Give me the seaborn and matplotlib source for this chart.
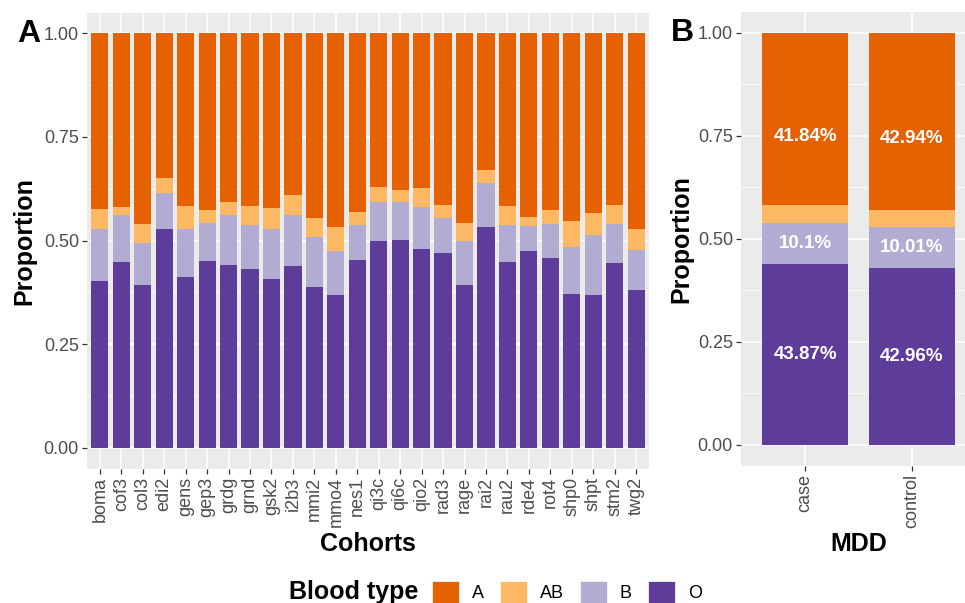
import numpy as np
import pandas as pd
import matplotlib
matplotlib.use("Agg")
import matplotlib.pyplot as plt
import seaborn as sns
from matplotlib.patches import Patch
from matplotlib.ticker import MultipleLocator, FormatStrFormatter

# ---------------- data ----------------
cohorts = ["boma", "cof3", "col3", "edi2", "gens", "gep3", "grdg", "grnd", "gsk2",
           "i2b3", "mmi2", "mmo4", "nes1", "qi3c", "qi6c", "qio2", "rad3", "rage",
           "rai2", "rau2", "rde4", "rot4", "shp0", "shpt", "stm2", "twg2"]
prop_O = [0.403, 0.448, 0.393, 0.528, 0.413, 0.452, 0.441, 0.431, 0.408, 0.439,
          0.389, 0.369, 0.453, 0.498, 0.502, 0.480, 0.470, 0.393, 0.534, 0.448,
          0.475, 0.459, 0.371, 0.369, 0.447, 0.381]
prop_B = [0.126, 0.114, 0.102, 0.086, 0.116, 0.091, 0.120, 0.107, 0.119, 0.124,
          0.119, 0.105, 0.084, 0.095, 0.092, 0.102, 0.084, 0.105, 0.105, 0.090,
          0.061, 0.082, 0.113, 0.145, 0.094, 0.096]
prop_AB = [0.047, 0.020, 0.044, 0.037, 0.054, 0.031, 0.033, 0.045, 0.052, 0.047,
           0.046, 0.059, 0.033, 0.036, 0.027, 0.045, 0.031, 0.045, 0.031, 0.045,
           0.021, 0.033, 0.063, 0.053, 0.045, 0.050]
prop_A = [0.424, 0.418, 0.461, 0.349, 0.417, 0.426, 0.406, 0.417, 0.421, 0.390,
          0.446, 0.467, 0.430, 0.371, 0.379, 0.373, 0.415, 0.457, 0.330, 0.417,
          0.443, 0.426, 0.453, 0.433, 0.414, 0.473]

mdd_groups = ["case", "control"]
mdd_O = [0.4387, 0.4296]
mdd_B = [0.1010, 0.1001]
mdd_AB = [0.0419, 0.0409]
mdd_A = [0.4184, 0.4294]

blood_types = ["A", "AB", "B", "O"]
colors = {"A": "#E66101", "AB": "#FDB863", "B": "#B2ABD2", "O": "#5E3C99"}

# ---------------- style ----------------
plt.rcParams["font.family"] = ["Liberation Sans", "DejaVu Sans"]
TICK_GRAY = "#4D4D4D"

fig = plt.figure(figsize=(9.65, 6.03), dpi=100)
W, H = 965, 603
axA = fig.add_axes([87 / W, 0.2227, 562 / W, 0.7564])
axB = fig.add_axes([741 / W, 0.2279, 235 / W, 0.7516])


def stacked(ax, cats, O, B, AB, A, xname):
    df = pd.DataFrame({xname: cats, "O": O, "B": B, "AB": AB, "A": A})
    df["top_O"] = df["O"]
    df["top_B"] = df["top_O"] + df["B"]
    df["top_AB"] = df["top_B"] + df["AB"]
    df["top_A"] = df["top_AB"] + df["A"]
    for bt in ["A", "AB", "B", "O"]:
        sns.barplot(data=df, x=xname, y="top_" + bt, order=cats, color=colors[bt],
                    saturation=1, width=0.8, errorbar=None, linewidth=0,
                    edgecolor="none", ax=ax)
    return df


def style(ax, n):
    ax.set_facecolor("#EBEBEB")
    for s in ax.spines.values():
        s.set_visible(False)
    ax.set_ylim(-0.05, 1.05)
    ax.set_xlim(-0.6, n - 1 + 0.6)
    ax.yaxis.set_major_locator(MultipleLocator(0.25))
    ax.yaxis.set_minor_locator(MultipleLocator(0.125))
    ax.yaxis.set_major_formatter(FormatStrFormatter("%.2f"))
    ax.grid(which="major", color="white", linewidth=1.1)
    ax.grid(which="minor", axis="y", color="white", linewidth=0.55)
    ax.set_axisbelow(True)
    ax.tick_params(which="major", length=3.8, width=0.9, color="#333333",
                   labelcolor=TICK_GRAY, labelsize=13, pad=2)
    ax.tick_params(which="minor", length=0)
    ax.tick_params(axis="x", labelrotation=90)


stacked(axA, cohorts, prop_O, prop_B, prop_AB, prop_A, "Cohorts")
dfB = stacked(axB, mdd_groups, mdd_O, mdd_B, mdd_AB, mdd_A, "MDD")
style(axA, len(cohorts))
style(axB, len(mdd_groups))

for ax, xl, lx, ly in [(axA, "Cohorts", -0.112, -0.166), (axB, "MDD", -0.255, -0.174)]:
    ax.set_xlabel(xl, fontsize=18, fontweight="bold")
    ax.set_ylabel("Proportion", fontsize=18, fontweight="bold")
    ax.yaxis.set_label_coords(lx, 0.5)
    ax.yaxis.label.set_va("center")
    ax.xaxis.set_label_coords(0.5, ly)
    ax.xaxis.label.set_va("center")

# percentage labels in panel B (A, B, O only)
for i, row in dfB.iterrows():
    pos_O = row["O"] / 2
    pos_B = row["O"] + row["B"] / 2
    pos_A = row["O"] + row["B"] + row["A"] / 2
    for val, pos in [(row["O"], pos_O), (row["B"], pos_B), (row["A"], pos_A)]:
        axB.text(i, pos, f"{round(val * 100, 2):g}%", ha="center", va="center",
                 color="white", fontsize=13.5, fontweight="bold")

# panel letters
fig.text(17 / W, 1 - 42 / H, "A", fontsize=23, fontweight="bold", va="baseline")
fig.text(671 / W, 1 - 41 / H, "B", fontsize=23, fontweight="bold", va="baseline")

# legend
handles = [Patch(facecolor=colors[b], edgecolor="white", linewidth=0.5) for b in blood_types]
fig.legend(handles, blood_types, loc="center", bbox_to_anchor=(567 / W, 1 - 592 / H),
           ncol=4, frameon=False, fontsize=13, handlelength=1.5, handleheight=1.5,
           handletextpad=0.7, columnspacing=0.9, borderpad=0, labelcolor="black")
fig.text(289 / W, 1 - 592 / H, "Blood type", fontsize=18, fontweight="bold",
         ha="left", va="center")

fig.savefig("out.png", dpi=100)
